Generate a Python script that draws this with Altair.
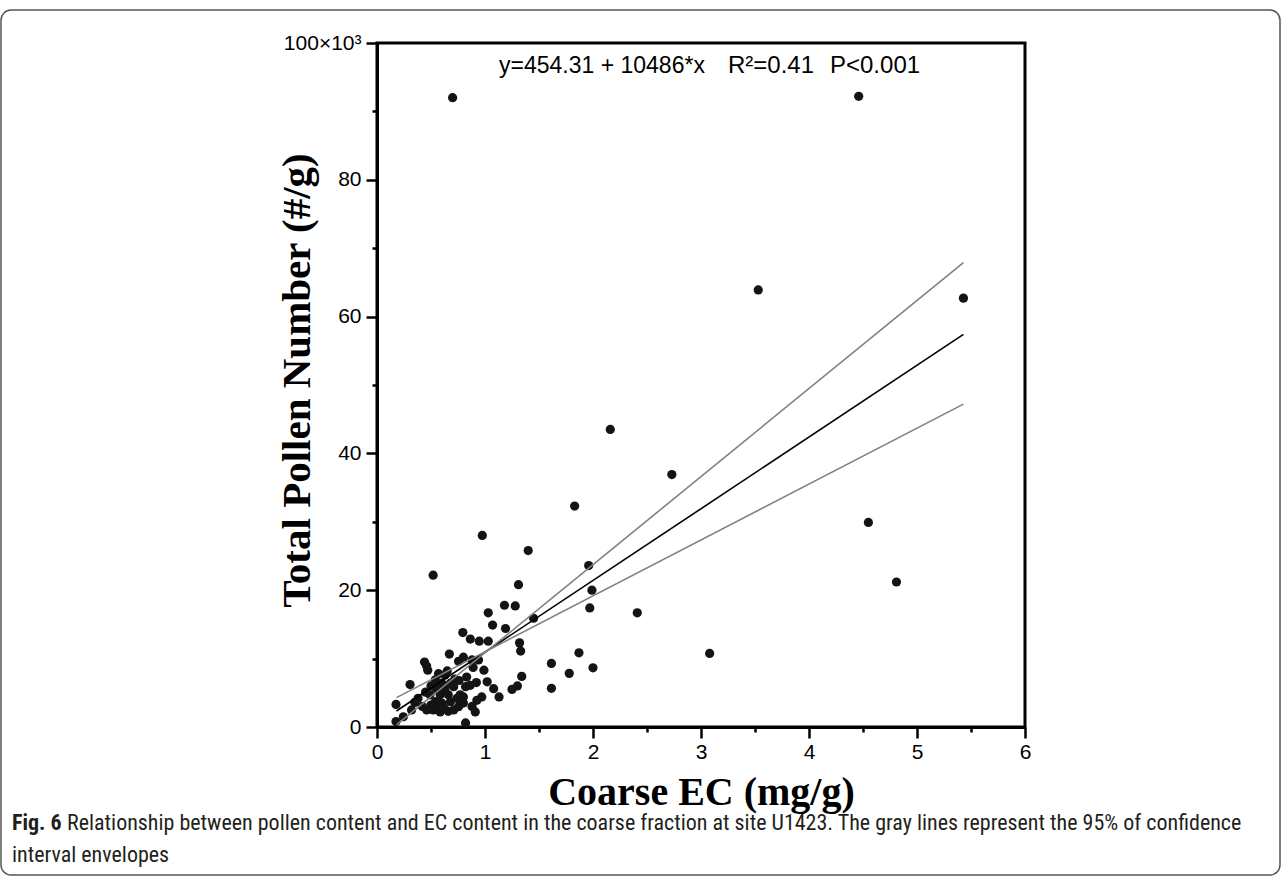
import altair as alt
import pandas as pd

# ---- data ----
ec_x = [0.70, 4.46, 3.53, 5.43, 2.16, 2.73, 1.83, 4.55, 0.975, 1.40,
        1.96, 0.52, 4.81, 1.31, 1.99, 1.97, 1.18, 1.28, 2.41, 1.03,
        1.45, 1.07, 1.19, 0.795, 0.864, 0.947, 1.03, 1.32, 1.33, 1.87,
        3.08, 0.67, 0.80, 0.755, 0.88, 0.94, 1.615, 0.44, 0.46, 0.47,
        0.89, 0.99, 2.00, 1.78, 1.34, 1.25, 1.30, 1.08, 1.13, 1.02,
        0.97, 0.925, 0.91, 0.82, 0.306, 0.176, 0.176, 0.244, 0.32, 0.38,
        0.45, 0.49, 0.46, 0.52, 0.585, 0.54, 0.60, 0.68, 0.74, 0.80,
        0.71, 0.755, 0.80, 0.585, 0.66, 0.77, 0.55, 0.63, 0.71, 0.82,
        0.864, 0.54, 0.60, 0.68, 0.57, 0.63, 0.83, 0.50, 0.62, 0.66,
        0.88, 0.72, 0.58, 0.50, 0.42, 1.615, 0.35, 0.65, 0.76, 0.92]
pollen_y = [92.0, 92.2, 63.9, 62.7, 43.5, 36.9, 32.3, 29.9, 28.0, 25.8,
            23.6, 22.2, 21.2, 20.8, 20.0, 17.4, 17.8, 17.7, 16.7, 16.7,
            15.9, 14.9, 14.4, 13.8, 12.85, 12.55, 12.55, 12.3, 11.1, 10.85,
            10.75, 10.66, 10.2, 9.6, 9.8, 9.8, 9.3, 9.5, 8.9, 8.3,
            8.7, 8.3, 8.66, 7.84, 7.4, 5.5, 6.0, 5.6, 4.4, 6.6,
            4.4, 3.9, 2.2, 0.6, 6.2, 3.3, 0.8, 1.5, 2.5, 4.2,
            5.1, 4.7, 2.5, 2.5, 2.2, 3.7, 3.5, 3.7, 4.2, 4.4,
            2.5, 2.97, 3.5, 4.7, 4.7, 4.7, 5.6, 5.6, 5.9, 5.9,
            6.1, 6.9, 6.4, 6.4, 7.8, 7.6, 7.3, 3.2, 2.8, 2.3,
            3.0, 7.0, 3.0, 6.0, 3.0, 5.65, 3.6, 8.2, 6.8, 6.5]

fit_x = [0.18, 5.43]
fit_y = [2.34, 57.39]
upper_y = [0.3, 67.9]
lower_y = [4.3, 47.2]

x_major_ticks = [0, 1, 2, 3, 4, 5, 6]
x_minor_ticks = [0.5, 1.5, 2.5, 3.5, 4.5, 5.5]
y_major_ticks = [0, 20, 40, 60, 80, 100]
y_minor_ticks = [10, 30, 50, 70, 90]

eq_text = "y=454.31 + 10486*x"
r2_text = "R\u00b2=0.41"
p_text = "P<0.001"
cap_bold = "Fig. 6"
cap_line1 = ("Relationship between pollen content and EC content in the coarse fraction "
             "at site U1423. The gray lines represent the 95% of confidence")
cap_line2 = "interval envelopes"

# ---- layout ----
W, H = 648, 684
L, T = 377, 43

points = pd.DataFrame({"ec": ec_x, "pollen": pollen_y})
lines = pd.DataFrame({
    "ec": fit_x * 3,
    "pollen": fit_y + upper_y + lower_y,
    "series": ["fit", "fit", "upper", "upper", "lower", "lower"],
})

xscale = alt.Scale(domain=[0, 6], nice=False, zero=False)
yscale = alt.Scale(domain=[0, 100], nice=False)

x_major = alt.Axis(values=x_major_ticks, format="d", orient="bottom",
                   tickSize=11, tickWidth=2.5, tickColor="black",
                   domainWidth=3, domainColor="black",
                   labelFont="Liberation Sans", labelFontSize=21, labelColor="black",
                   labelPadding=3, labelFlush=False, labelOverlap=False, grid=False,
                   title="Coarse EC (mg/g)", titleFont="Liberation Serif",
                   titleFontSize=40, titleFontWeight="bold", titleColor="black",
                   titleX=W / 2, titleY=77, titleAlign="center", titleBaseline="alphabetic")
y_major = alt.Axis(values=y_major_ticks, orient="left",
                   labelExpr="datum.value == 100 ? '100\u00d710\u00b3' : datum.label",
                   tickSize=11, tickWidth=2.5, tickColor="black",
                   domainWidth=3, domainColor="black",
                   labelFont="Liberation Sans", labelFontSize=21, labelColor="black",
                   labelPadding=5, labelFlush=False, labelOverlap=False, grid=False,
                   title="Total Pollen Number (#/g)", titleFont="Liberation Serif",
                   titleFontSize=41, titleFontWeight="bold", titleColor="black",
                   titleX=-68, titleY=337, titleAngle=-90, titleAlign="center",
                   titleBaseline="alphabetic")
x_minor = alt.Axis(values=x_minor_ticks, orient="bottom", tickSize=5, tickWidth=2.5,
                   tickColor="black", labels=False, domain=False, grid=False, title=None)
y_minor = alt.Axis(values=y_minor_ticks, orient="left", tickSize=5, tickWidth=2.5,
                   tickColor="black", labels=False, domain=False, grid=False, title=None)

pts = alt.Chart(points).mark_circle(size=85, color="#141414", opacity=1).encode(
    x=alt.X("ec:Q", scale=xscale, axis=x_major),
    y=alt.Y("pollen:Q", scale=yscale, axis=y_major),
)

lns = alt.Chart(lines).mark_line(strokeWidth=1.6).encode(
    x=alt.X("ec:Q", scale=xscale, axis=x_minor),
    y=alt.Y("pollen:Q", scale=yscale, axis=y_minor),
    color=alt.Color("series:N", legend=None,
                    scale=alt.Scale(domain=["fit", "upper", "lower"],
                                    range=["#000000", "#808080", "#808080"])),
)


def txt(s, px, py, size, font="Liberation Sans", weight="normal", color="black"):
    return alt.Chart(pd.DataFrame({"t": [s]})).mark_text(
        align="left", baseline="alphabetic", font=font, fontSize=size,
        fontWeight=weight, color=color
    ).encode(text="t:N", x=alt.value(px - L), y=alt.value(py - T))


ann = [
    txt(eq_text, 499, 73, 23),
    txt(r2_text, 728, 73, 24),
    txt(p_text, 830, 73, 24),
]

capfont = "Liberation Sans Narrow, Arial Narrow, Roboto Condensed, sans-serif"
cap = [
    txt(cap_bold, 12, 830, 22, font=capfont, weight="bold", color="#231f20"),
    txt(cap_line1, 67, 830, 22, font=capfont, color="#231f20"),
    txt(cap_line2, 12, 862, 22, font=capfont, color="#231f20"),
]

border = alt.Chart(pd.DataFrame({"a": [0]})).mark_rect(
    fillOpacity=0, stroke="#555555", strokeWidth=1.5, cornerRadius=10
).encode(x=alt.value(1 - L), x2=alt.value(1280 - L),
         y=alt.value(10 - T), y2=alt.value(875 - T))

chart = alt.layer(pts, lns, *ann, *cap, border).resolve_axis(
    x="independent", y="independent"
).properties(
    width=W, height=H,
    autosize=alt.AutoSizeParams(type="none"),
    padding={"left": L, "top": T, "right": 1282 - L - W, "bottom": 877 - T - H},
    background="white",
).configure_view(stroke="black", strokeWidth=3)

chart.save("out.html", embed_options={"renderer": "svg", "actions": False})
